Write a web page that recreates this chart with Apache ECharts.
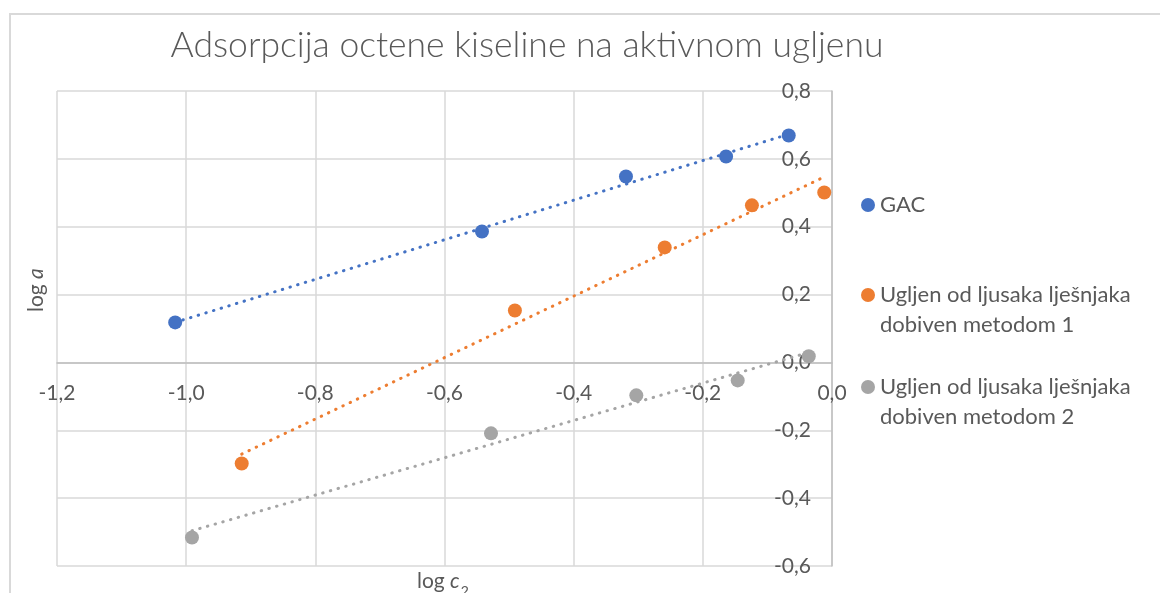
<!DOCTYPE html>
<html>
<head>
<meta charset="utf-8">
<script src="https://cdn.jsdelivr.net/npm/echarts@6/dist/echarts.min.js"></script>
<style>
  html, body { margin: 0; padding: 0; background: #fff; overflow: hidden; }
  #frame { position: absolute; left: 9px; top: 13px; width: 1160px; height: 600px; border: 2px solid #d9d9d9; box-sizing: border-box; }
  #chart { position: absolute; left: 0; top: 0; width: 1160px; height: 593px; }
</style>
</head>
<body>
<div id="frame"></div>
<div id="chart"></div>
<script>
const titleText = 'Adsorpcija octene kiseline na aktivnom ugljenu';
const seriesNames = ['GAC', 'Ugljen od ljusaka lješnjaka\ndobiven metodom 1', 'Ugljen od ljusaka lješnjaka\ndobiven metodom 2'];
const colors = ['#4472C4', '#ED7D31', '#A5A5A5'];

const gacX = [-1.017, -0.542, -0.319, -0.164, -0.067];
const gacY = [0.118, 0.386, 0.548, 0.607, 0.669];
const m1X = [-0.914, -0.491, -0.259, -0.124, -0.012];
const m1Y = [-0.298, 0.153, 0.339, 0.463, 0.501];
const m2X = [-0.991, -0.528, -0.303, -0.146, -0.036];
const m2Y = [-0.516, -0.209, -0.097, -0.053, 0.018];

const xMin = -1.2, xMax = 0.0, xStep = 0.2;
const yMin = -0.6, yMax = 0.8, yStep = 0.2;

function pairs(xs, ys) { return xs.map((x, i) => [x, ys[i]]); }
function trend(xs, ys) {
  const n = xs.length;
  const mx = xs.reduce((a, b) => a + b, 0) / n;
  const my = ys.reduce((a, b) => a + b, 0) / n;
  let sxy = 0, sxx = 0;
  for (let i = 0; i < n; i++) { sxy += (xs[i] - mx) * (ys[i] - my); sxx += (xs[i] - mx) ** 2; }
  const b = sxy / sxx, a = my - b * mx;
  const lo = Math.min(...xs), hi = Math.max(...xs);
  return [[lo, a + b * lo], [hi, a + b * hi]];
}
const fmt = v => (Math.abs(v) < 1e-9 ? 0 : v).toFixed(1).replace('.', ',');

const allX = [gacX, m1X, m2X], allY = [gacY, m1Y, m2Y];
const series = [];
for (let i = 0; i < 3; i++) {
  series.push({
    name: seriesNames[i] + ' trend', type: 'line', data: trend(allX[i], allY[i]),
    showSymbol: false, symbol: 'none', silent: true, z: 2,
    lineStyle: { color: colors[i], width: 3, type: [0.5, 7.5], cap: 'round' }
  });
}
for (let i = 0; i < 3; i++) {
  series.push({
    name: seriesNames[i], type: 'scatter', data: pairs(allX[i], allY[i]),
    symbol: 'circle', symbolSize: 14, z: 3,
    itemStyle: { color: colors[i], opacity: 1 }
  });
}

// layout of the plot area (px)
const G = { left: 57, right: 328, top: 91, bottom: 27 };
const plotH = 593 - G.top - G.bottom;
const xAxisOffset = -plotH * (0 - yMin) / (yMax - yMin);

const font = 'Lato, "Open Sans", sans-serif';
const txt = '#595959';
const legendBase = {
  orient: 'vertical', left: 856, icon: 'circle', itemWidth: 14, itemHeight: 14,
  selectedMode: false,
  textStyle: { fontFamily: font, fontSize: 22, color: txt, lineHeight: 30 }
};

const chart = echarts.init(document.getElementById('chart'), null, { renderer: 'canvas' });
chart.setOption({
  animation: false,
  color: colors,
  title: {
    text: titleText, left: 522, top: 23, textAlign: 'center',
    textStyle: { fontFamily: font, fontSize: 35.5, fontWeight: 300, color: txt }
  },
  grid: Object.assign({ containLabel: false, outerBoundsMode: 'none' }, G),
  xAxis: {
    type: 'value', min: xMin, max: xMax, interval: xStep,
    position: 'bottom', offset: xAxisOffset,
    axisLine: { show: true, onZero: false, lineStyle: { color: '#bfbfbf', width: 1.5 } },
    axisTick: { show: false },
    axisLabel: { formatter: fmt, margin: 20, fontFamily: font, fontSize: 21, color: txt },
    splitLine: { show: true, lineStyle: { color: '#d9d9d9', width: 1.5 } }
  },
  yAxis: {
    type: 'value', min: yMin, max: yMax, interval: yStep,
    position: 'right',
    axisLine: { show: true, onZero: false, lineStyle: { color: '#bfbfbf', width: 1.5 } },
    axisTick: { show: false },
    axisLabel: { inside: true, formatter: fmt, margin: 21, fontFamily: font, fontSize: 21, color: txt },
    splitLine: { show: true, lineStyle: { color: '#d9d9d9', width: 1.5 } }
  },
  legend: [
    Object.assign({}, legendBase, { top: 185, data: [{ name: seriesNames[0] }] }),
    Object.assign({}, legendBase, { top: 245, data: [{ name: seriesNames[1] }], formatter: n => ' \n' + n }),
    Object.assign({}, legendBase, { top: 337, data: [{ name: seriesNames[2] }], formatter: n => ' \n' + n })
  ],
  graphic: [
    {
      type: 'text', x: 36, y: 312, rotation: Math.PI / 2, silent: true,
      style: {
        text: '{n|log }{i|a}', align: 'left', verticalAlign: 'middle',
        rich: {
          n: { fontFamily: font, fontSize: 21, fill: txt },
          i: { fontFamily: font, fontSize: 21, fontStyle: 'italic', fill: txt }
        }
      }
    },
    {
      type: 'text', x: 417, y: 579, silent: true,
      style: {
        text: '{n|log }{i|c}{s|2}', align: 'left', verticalAlign: 'middle',
        rich: {
          n: { fontFamily: font, fontSize: 21, fill: txt, verticalAlign: 'bottom', lineHeight: 26 },
          i: { fontFamily: font, fontSize: 21, fontStyle: 'italic', fill: txt, verticalAlign: 'bottom', lineHeight: 26 },
          s: { fontFamily: font, fontSize: 14, fill: txt, verticalAlign: 'bottom', lineHeight: 26, padding: [0, 0, -6, 1] }
        }
      }
    }
  ],
  series: series
});
</script>
</body>
</html>
